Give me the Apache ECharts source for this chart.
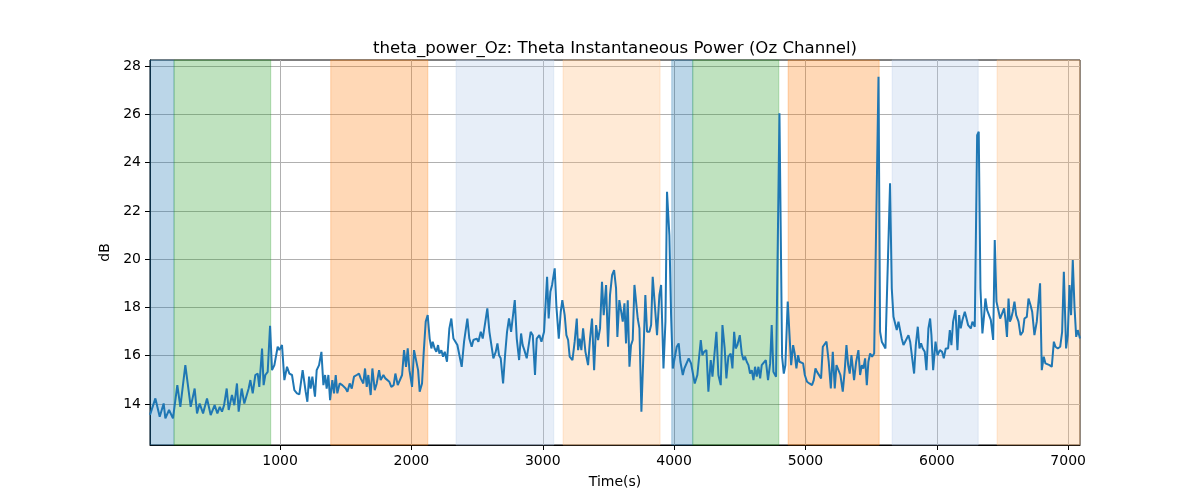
<!DOCTYPE html>
<html><head><meta charset="utf-8">
<script src="https://cdn.jsdelivr.net/npm/echarts@6/dist/echarts.min.js"></script>
<style>html,body{margin:0;padding:0;background:#fff}#c{width:1200px;height:500px}</style>
</head><body><div id="c"></div>
<script>
const titleText = 'theta_power_Oz: Theta Instantaneous Power (Oz Channel)';
const xName = 'Time(s)';
const yName = 'dB';
const xTicks = [1000, 2000, 3000, 4000, 5000, 6000, 7000];
const yTicks = [14, 16, 18, 20, 22, 24, 26, 28];

const times = [
  10, 51, 84, 114, 127, 155, 185, 218, 241, 279, 320, 350, 368, 388, 414, 444, 472, 502, 523, 541, 558, 574, 594,
  609, 634, 652, 672, 685, 708, 728, 761, 774, 792, 812, 830, 842, 863, 875, 888, 906, 924, 939, 957, 982, 995, 1015, 1033, 1053, 1071, 1091, 1109, 1129, 1147, 1172,
  1195, 1208, 1221, 1233, 1246, 1266, 1279, 1297, 1315, 1330, 1343, 1355, 1368, 1381, 1398, 1411, 1424, 1436, 1454, 1474, 1500, 1513, 1530, 1546, 1563, 1584, 1601, 1614, 1634, 1647, 1660, 1672, 1690, 1703, 1721, 1736, 1754, 1766, 1787,
  1802, 1832, 1847, 1865, 1878, 1896, 1911, 1929, 1944, 1959, 1972, 1985, 2005, 2020, 2035, 2051, 2063, 2081, 2094, 2109, 2124, 2139, 2152, 2162, 2177, 2190, 2203, 2213, 2228, 2241, 2254, 2271, 2289, 2304, 2320, 2335, 2350, 2365,
  2383, 2401, 2426, 2441, 2459, 2472, 2485, 2497, 2510, 2528, 2543, 2561, 2578, 2594, 2606, 2624, 2642, 2655, 2667, 2680, 2698, 2713, 2728, 2743, 2759, 2771, 2787, 2802, 2820, 2835, 2847, 2860, 2878, 2891, 2908, 2924, 2941, 2954, 2974,
  2990, 3010, 3023, 3033, 3045, 3058, 3071, 3091, 3104, 3122, 3137, 3149, 3167, 3180, 3193, 3205, 3226, 3243, 3259, 3269, 3281, 3294, 3307, 3325, 3345, 3360, 3375, 3391, 3406, 3421, 3436, 3451, 3464, 3482, 3497, 3512, 3528, 3543, 3558, 3568,
  3583, 3596, 3609, 3622, 3634, 3647, 3660, 3672, 3685, 3698, 3710, 3723, 3736, 3751, 3766, 3781, 3794, 3812, 3825, 3837, 3855, 3870, 3888, 3901, 3919, 3934, 3946, 3964, 3977, 3990, 4005, 4020, 4035, 4048, 4066, 4078, 4091, 4111, 4129, 4142, 4157,
  4177, 4190, 4203, 4215, 4228, 4246, 4261, 4279, 4292, 4304, 4322, 4337, 4355, 4368, 4385, 4398, 4413, 4431, 4444, 4457, 4469, 4482, 4500, 4515, 4528, 4540, 4553, 4566, 4578, 4591, 4604, 4616, 4629, 4642, 4655, 4667, 4680, 4698, 4715, 4731, 4743, 4756,
  4776, 4802, 4822, 4835, 4847, 4865, 4878, 4891, 4906, 4918, 4931, 4944, 4954, 4969, 4982, 4995, 5012, 5030, 5050, 5063, 5076, 5088, 5101, 5119, 5132, 5147, 5160, 5177, 5193, 5208, 5223, 5236, 5248, 5266, 5284, 5299, 5312, 5325, 5337, 5350,
  5370, 5386, 5403, 5416, 5429, 5441, 5454, 5467, 5479, 5492, 5507, 5523, 5538, 5556, 5568, 5581, 5594, 5609, 5644, 5657, 5670, 5682, 5695, 5708, 5721, 5733, 5746, 5759, 5771, 5784, 5797, 5812, 5827, 5840, 5855, 5868, 5880, 5893, 5908, 5921, 5936, 5949,
  5959, 5972, 5990, 6005, 6023, 6040, 6053, 6068, 6086, 6099, 6111, 6124, 6142, 6157, 6170, 6182, 6195, 6213, 6226, 6238, 6259, 6271, 6289, 6307, 6319, 6332, 6347, 6360, 6370, 6383, 6396, 6411, 6429, 6441, 6454, 6469, 6482, 6497, 6512, 6522, 6534,
  6546, 6556, 6566, 6578, 6591, 6604, 6622, 6637, 6655, 6667, 6685, 6698, 6713, 6726, 6743, 6761, 6774, 6786, 6799, 6814, 6827, 6840, 6858, 6875, 6891, 6903, 6921, 6939, 6954, 6967, 6984, 6997, 7010, 7022, 7035, 7048, 7061, 7073, 7090
];

const values = [
  13.55, 14.23, 13.47, 14.02, 13.40, 13.75, 13.40, 14.78, 13.88, 15.61, 13.88, 14.64, 13.61, 14.02, 13.61, 14.23, 13.54, 13.95, 13.61, 13.88, 13.68, 13.95, 14.64,
  13.75, 14.37, 13.95, 14.85, 13.68, 14.64, 14.02, 14.64, 14.99, 14.44, 15.20, 15.26, 14.71, 16.30, 14.78, 15.20, 15.33, 17.24, 15.40, 15.61, 16.37, 16.23, 16.44, 14.99, 15.54, 15.26, 15.20, 14.57, 14.44, 14.40, 15.40,
  14.51, 14.09, 15.13, 14.64, 15.13, 14.30, 15.40, 15.61, 16.16, 14.78, 15.20, 14.64, 15.20, 14.16, 14.99, 14.44, 15.20, 14.44, 14.85, 14.78, 14.64, 14.51, 14.85, 14.64, 15.13, 15.20, 15.26, 15.06, 14.85, 15.47, 14.71, 15.20, 14.37, 15.47, 14.57, 14.85, 15.40, 14.99, 15.20,
  15.06, 14.92, 14.71, 14.78, 15.26, 14.78, 14.78, 15.20, 16.23, 15.54, 16.30, 15.40, 14.71, 16.23, 16.30, 15.40, 14.51, 14.85, 16.16, 17.41, 17.68, 16.71, 16.30, 16.58, 16.30, 16.16, 16.44, 16.09, 16.23, 15.96, 16.16, 15.75, 17.13, 17.54, 16.71, 16.78, 16.44, 16.37,
  15.54, 16.58, 17.54, 16.71, 16.37, 16.65, 16.65, 16.71, 16.58, 16.99, 16.71, 17.34, 17.96, 16.99, 16.92, 15.89, 16.16, 16.51, 16.02, 15.89, 14.85, 16.02, 16.99, 17.54, 16.99, 16.99, 18.30, 16.71, 15.82, 16.92, 16.44, 16.23, 15.89, 15.96, 16.99, 16.85, 15.20, 16.71, 16.85,
  16.58, 16.99, 16.99, 19.27, 17.54, 18.65, 18.93, 19.62, 18.03, 16.71, 17.82, 18.30, 17.68, 16.85, 16.65, 15.96, 15.82, 16.58, 17.54, 16.23, 16.71, 16.23, 17.13, 16.16, 15.61, 16.71, 17.54, 15.40, 17.27, 16.65, 17.13, 19.06, 17.68, 18.93, 16.37, 18.51, 19.34, 19.55, 18.79, 16.78,
  18.30, 18.24, 17.41, 18.17, 16.51, 18.30, 15.54, 16.44, 16.65, 18.93, 18.93, 17.54, 17.13, 13.68, 16.02, 18.51, 16.99, 16.99, 17.27, 19.27, 17.96, 16.85, 18.51, 18.93, 15.47, 17.41, 22.79, 20.99, 17.68, 15.47, 15.54, 16.37, 16.51, 15.75, 15.20, 15.47, 15.47, 15.89, 15.68, 15.75, 14.85,
  15.20, 15.26, 16.65, 16.02, 16.16, 16.23, 14.51, 15.82, 15.13, 15.06, 16.99, 15.20, 14.78, 17.27, 16.30, 15.06, 15.96, 16.09, 15.47, 16.99, 16.30, 16.44, 16.85, 16.09, 15.82, 15.96, 15.75, 15.61, 15.26, 15.40, 14.99, 15.54, 15.13, 15.54, 15.06, 15.61, 15.68, 15.82, 14.99, 15.68, 17.27, 15.33,
  15.13, 26.04, 15.96, 15.26, 15.61, 18.24, 16.92, 15.61, 16.44, 16.09, 15.47, 16.02, 15.75, 15.75, 15.68, 15.20, 14.92, 14.85, 14.78, 14.99, 15.47, 15.33, 15.26, 15.06, 16.37, 16.44, 16.58, 15.75, 14.64, 16.16, 14.64, 15.61, 15.54, 15.20, 14.51, 15.40, 16.44, 15.61, 15.26, 16.02,
  14.99, 15.75, 16.23, 15.20, 15.61, 15.47, 15.89, 14.78, 15.75, 16.09, 15.96, 16.09, 16.09, 27.56, 16.99, 16.58, 16.51, 16.30, 23.14, 18.79, 17.61, 17.54, 17.06, 17.41, 17.48, 16.71, 16.44, 16.58, 16.65, 16.85, 16.58, 16.58, 15.26, 16.44, 17.20, 16.30, 16.51, 16.30, 16.16, 15.40, 17.13, 17.54,
  16.85, 15.40, 16.58, 16.02, 16.23, 16.16, 15.89, 16.30, 16.30, 17.06, 16.44, 17.41, 17.89, 16.23, 17.68, 17.13, 17.48, 17.82, 17.54, 17.27, 17.13, 17.41, 17.20, 25.14, 25.28, 18.79, 16.92, 17.68, 18.37, 17.89, 17.82, 17.48, 16.65, 20.79, 18.24, 18.17, 17.54, 17.48, 17.96, 17.54, 16.78,
  18.37, 17.41, 17.54, 17.82, 18.24, 17.68, 17.41, 16.85, 16.99, 17.54, 17.61, 18.37, 18.10, 17.82, 16.85, 17.41, 18.24, 19.00, 15.40, 15.96, 15.68, 15.75, 15.61, 15.54, 16.58, 16.37, 16.30, 16.37, 16.99, 19.48, 16.30, 16.85, 18.93, 17.68, 19.96, 18.03, 16.78, 17.06, 16.71
];

const bandStarts = [10, 193, 1386, 2340, 3155, 3982, 4142, 4868, 5660, 6459];
const bandEnds   = [193, 929, 2125, 3084, 3893, 4142, 4797, 5561, 6315, 7090];
const bandColors = [
  'rgba(31,119,180,0.3)', 'rgba(44,160,44,0.3)', 'rgba(255,127,14,0.3)', 'rgba(174,199,232,0.3)', 'rgba(255,187,120,0.3)',
  'rgba(31,119,180,0.3)', 'rgba(44,160,44,0.3)', 'rgba(255,127,14,0.3)', 'rgba(174,199,232,0.3)', 'rgba(255,187,120,0.3)'
];

const FONT = 'DejaVu Sans';
const chart = echarts.init(document.getElementById('c'), null, {renderer: 'canvas'});
const lineData = times.map((t, i) => [t, values[i]]);
const bands = bandStarts.map((s, i) => [
  {xAxis: s, itemStyle: {color: bandColors[i], borderColor: bandColors[i], borderWidth: 1}},
  {xAxis: bandEnds[i]}
]);
const plain = v => String(v);

chart.setOption({
  animation: false,
  backgroundColor: '#fff',
  title: {
    text: titleText, left: 610, top: 35, textAlign: 'center',
    textStyle: {fontFamily: FONT, fontSize: 16.6, fontWeight: 'normal', color: '#000'}
  },
  grid: {left: 150, right: 120, top: 60, bottom: 55, show: true, borderColor: '#000', borderWidth: 1, backgroundColor: 'transparent'},
  xAxis: {
    type: 'value', min: 10, max: 7090,
    name: xName, nameLocation: 'middle', nameGap: 30,
    nameTextStyle: {fontFamily: FONT, fontSize: 14, color: '#000'},
    axisLine: {show: true, onZero: false, lineStyle: {color: '#000', width: 1}},
    axisTick: {show: true, customValues: xTicks, length: 5, lineStyle: {color: '#000', width: 1}},
    axisLabel: {customValues: xTicks, formatter: plain, color: '#000', fontFamily: FONT, fontSize: 14, margin: 9},
    splitLine: {show: true, lineStyle: {color: '#b0b0b0', width: 1}}
  },
  yAxis: {
    type: 'value', min: 12.3, max: 28.25,
    name: yName, nameLocation: 'middle', nameGap: 37, nameRotate: 90,
    nameTextStyle: {fontFamily: FONT, fontSize: 14, color: '#000'},
    axisLine: {show: true, onZero: false, lineStyle: {color: '#000', width: 1}},
    axisTick: {show: true, customValues: yTicks, length: 5, lineStyle: {color: '#000', width: 1}},
    axisLabel: {customValues: yTicks, formatter: plain, color: '#000', fontFamily: FONT, fontSize: 14, margin: 9},
    splitLine: {show: true, lineStyle: {color: '#b0b0b0', width: 1}}
  },
  series: [{
    type: 'line', data: lineData, showSymbol: false, symbol: 'none',
    lineStyle: {color: '#1f77b4', width: 2}, itemStyle: {color: '#1f77b4'},
    z: 3,
    markArea: {silent: true, data: bands}
  }]
});
</script></body></html>
